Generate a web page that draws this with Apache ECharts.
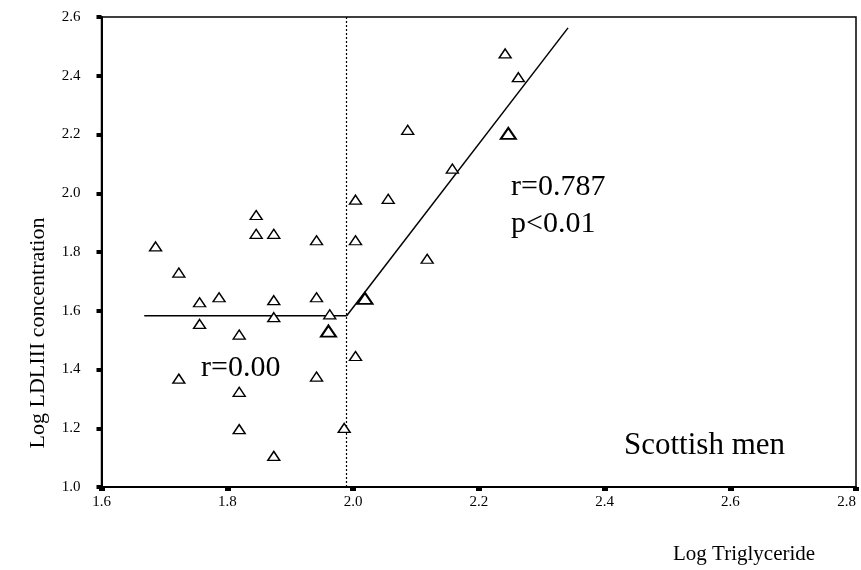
<!DOCTYPE html>
<html>
<head>
<meta charset="utf-8">
<script src="https://cdn.jsdelivr.net/npm/echarts@6/dist/echarts.min.js"></script>
<style>
  html, body { margin: 0; padding: 0; background: #fff; }
  #chart { width: 861px; height: 570px; }
</style>
</head>
<body>
<div id="chart"></div>
<script>
// Log triglyceride (x) vs log LDLIII concentration (y), Scottish men
const subjects = [
  [1.686, 1.819], [1.723, 1.730], [1.756, 1.629], [1.787, 1.646], [1.756, 1.555],
  [1.723, 1.369], [1.819, 1.519], [1.819, 1.324], [1.819, 1.197], [1.846, 1.926],
  [1.846, 1.862], [1.874, 1.862], [1.874, 1.636], [1.874, 1.578], [1.874, 1.106],
  [1.942, 1.840], [1.942, 1.646], [1.942, 1.376], [1.963, 1.588], [1.986, 1.201],
  [2.004, 1.978], [2.004, 1.840], [2.004, 1.446], [2.056, 1.981], [2.087, 2.216],
  [2.118, 1.777], [2.158, 2.084], [2.242, 2.476], [2.263, 2.395]
];
// coincident observations (drawn heavier)
const overlapping = [[1.961, 1.531], [2.019, 1.642], [2.247, 2.204]];

// regression segments either side of the breakpoint
const breakpoint = 1.99;
const fitBelow = [[1.668, 1.583], [1.99, 1.583]];
const fitAbove = [[1.99, 1.583], [2.342, 2.563]];

const xTicks = [1.6, 1.8, 2.0, 2.2, 2.4, 2.6, 2.8];
const yTicks = [1.0, 1.2, 1.4, 1.6, 1.8, 2.0, 2.2, 2.4, 2.6];

const serif = '"Liberation Serif", "DejaVu Serif", serif';
const chart = echarts.init(document.getElementById('chart'));

chart.setOption({
  animation: false,
  backgroundColor: '#ffffff',
  grid: {
    left: 101.5, right: 5, top: 17, bottom: 83,
    outerBoundsMode: 'none', containLabel: false,
    show: true, borderColor: '#000', borderWidth: 1.5, backgroundColor: 'transparent'
  },
  xAxis: {
    type: 'value',
    min: xTicks[0], max: xTicks[xTicks.length - 1], interval: 0.2,
    axisLine: { show: true, lineStyle: { color: '#000', width: 2 } },
    axisTick: { show: true, length: 4, lineStyle: { color: '#000', width: 6 } },
    splitLine: { show: false },
    axisLabel: {
      color: '#000', fontFamily: serif, fontSize: 15, margin: 8,
      alignMaxLabel: 'right',
      formatter: v => v.toFixed(1)
    }
  },
  yAxis: {
    type: 'value',
    min: yTicks[0], max: yTicks[yTicks.length - 1], interval: 0.2,
    axisLine: { show: true, lineStyle: { color: '#000', width: 2 } },
    axisTick: { show: true, length: 5, lineStyle: { color: '#000', width: 4 } },
    splitLine: { show: false },
    axisLabel: {
      color: '#000', fontFamily: serif, fontSize: 15, margin: 21,
      formatter: v => v.toFixed(1)
    }
  },
  series: [
    {
      type: 'line', data: fitBelow, symbol: 'none',
      lineStyle: { color: '#000', width: 1.5 },
      markLine: {
        silent: true, symbol: 'none', label: { show: false },
        lineStyle: { color: '#000', width: 1.2, type: [2, 2] },
        data: [{ xAxis: breakpoint }]
      }
    },
    {
      type: 'line', data: fitAbove, symbol: 'none',
      lineStyle: { color: '#000', width: 1.5 }
    },
    {
      type: 'scatter', data: subjects, symbol: 'triangle', symbolSize: [12, 9],
      itemStyle: { color: '#fff', borderColor: '#000', borderWidth: 1.4, opacity: 1 },
      z: 5
    },
    {
      type: 'scatter', data: overlapping, symbol: 'triangle', symbolSize: [15, 11],
      itemStyle: { color: '#fff', borderColor: '#000', borderWidth: 2, opacity: 1 },
      z: 5
    }
  ],
  graphic: [
    {
      type: 'text', left: 511, top: 172,
      style: { text: 'r=0.787', font: '30px ' + serif, fill: '#000' }
    },
    {
      type: 'text', left: 511, top: 209,
      style: { text: 'p<0.01', font: '30px ' + serif, fill: '#000' }
    },
    {
      type: 'text', left: 201, top: 353,
      style: { text: 'r=0.00', font: '30px ' + serif, fill: '#000' }
    },
    {
      type: 'text', left: 624, top: 430,
      style: { text: 'Scottish men', font: '31px ' + serif, fill: '#000' }
    },
    {
      type: 'text', left: 673, top: 544,
      style: { text: 'Log Triglyceride', font: '21px ' + serif, fill: '#000' }
    },
    {
      type: 'text', x: 38, y: 333, rotation: Math.PI / 2,
      style: {
        text: 'Log LDLIII concentration', font: '22px ' + serif, fill: '#000',
        align: 'center', verticalAlign: 'middle'
      }
    }
  ]
});
</script>
</body>
</html>
